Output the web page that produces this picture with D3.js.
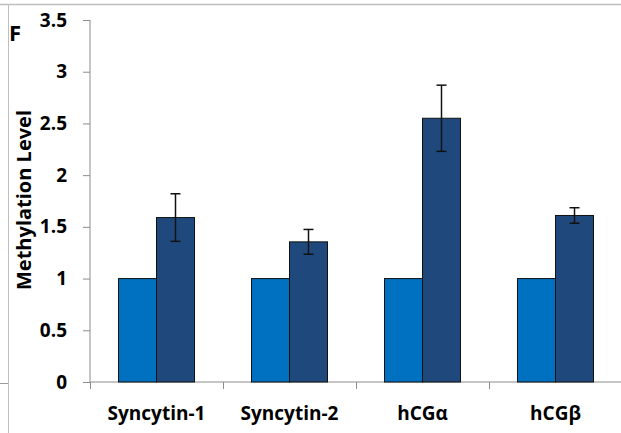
<!DOCTYPE html>
<html>
<head>
<meta charset="utf-8">
<script src="https://cdn.jsdelivr.net/npm/d3@7"></script>
<style>
  body { margin: 0; background: #fff; }
  svg { display: block; font-family: "Open Sans", Lato, sans-serif; }
</style>
</head>
<body>
<svg width="621" height="433"></svg>
<script>
// chart data
const genes = ["Syncytin-1", "Syncytin-2", "hCGα", "hCGβ"];
const groups = ["control", "treated"];
const controlValues = [1, 1, 1, 1];
const treatedValues = [1.59, 1.355, 2.55, 1.61];
const treatedErrors = [0.23, 0.12, 0.32, 0.075];
const yTicks = [0, 0.5, 1, 1.5, 2, 2.5, 3, 3.5];

const data = genes.map((g, i) => ({
  gene: g,
  bars: [
    { group: "control", value: controlValues[i], err: 0 },
    { group: "treated", value: treatedValues[i], err: treatedErrors[i] }
  ]
}));

const svg = d3.select("svg");
const margin = { top: 20, right: -1, bottom: 51, left: 90 };
const width = +svg.attr("width") - margin.left - margin.right;
const height = +svg.attr("height") - margin.top - margin.bottom;

const colorScale = d3.scaleOrdinal()
  .domain(groups)
  .range(["#0070c0", "#1f497d"]);

const xScale = d3.scaleBand()
  .domain(genes)
  .range([0, width])
  .paddingInner(0)
  .paddingOuter(0);

// Excel style: gap width 150% of a bar
const barW = xScale.bandwidth() / 3.5;
const xSub = d3.scaleBand()
  .domain(groups)
  .range([0, barW * 2]);

const yScale = d3.scaleLinear()
  .domain([0, 3.5])
  .range([height, 0]);

// page frame lines
svg.append("line").attr("x1", 0).attr("x2", 621).attr("y1", 4.5).attr("y2", 4.5)
  .attr("stroke", "#bfbfbf").attr("stroke-width", 1.5);
svg.append("line").attr("x1", 8.5).attr("x2", 8.5).attr("y1", 4).attr("y2", 433)
  .attr("stroke", "#bfbfbf").attr("stroke-width", 1);
svg.append("line").attr("x1", 0).attr("x2", 8).attr("y1", 383.5).attr("y2", 383.5)
  .attr("stroke", "#9a9a9a").attr("stroke-width", 1);

const g = svg.append("g").attr("transform", `translate(${margin.left},${margin.top})`);

// y axis
const yAxis = g.append("g")
  .call(d3.axisLeft(yScale).tickValues(yTicks).tickSize(7).tickPadding(16)
    .tickFormat(d => d));
yAxis.selectAll("line, path").attr("stroke", "#8c8c8c");
yAxis.select(".domain").attr("d", `M0,${height}V0`);
yAxis.selectAll("text").attr("fill", "#000").attr("font-size", 19).attr("font-weight", "bold")
  .attr("font-family", "'Open Sans', sans-serif");

// x axis with ticks between categories
const xAxis = g.append("g").attr("transform", `translate(0,${height})`);
xAxis.append("path").attr("d", `M0,0H${width}`).attr("stroke", "#8c8c8c");
xAxis.selectAll(".sep")
  .data(genes)
  .enter().append("line")
  .attr("class", "sep")
  .attr("x1", d => xScale(d) + 0.5).attr("x2", d => xScale(d) + 0.5)
  .attr("y1", 0).attr("y2", 7)
  .attr("stroke", "#8c8c8c");
xAxis.selectAll(".lbl")
  .data(genes)
  .enter().append("text")
  .attr("class", "lbl")
  .attr("x", d => xScale(d) + xScale.bandwidth() / 2)
  .attr("y", 38)
  .attr("text-anchor", "middle")
  .attr("font-size", 19)
  .attr("font-weight", "bold")
  .text(d => d);

// bars
const geneGroups = g.selectAll(".gene")
  .data(data)
  .enter().append("g")
  .attr("class", "gene")
  .attr("transform", d => `translate(${xScale(d.gene) + (xScale.bandwidth() - barW * 2) / 2},0)`);

geneGroups.selectAll(".bar")
  .data(d => d.bars)
  .enter().append("rect")
  .attr("class", "bar")
  .attr("x", d => xSub(d.group))
  .attr("y", d => yScale(d.value))
  .attr("width", xSub.bandwidth())
  .attr("height", d => height - yScale(d.value))
  .attr("fill", d => colorScale(d.group))
  .attr("stroke", "#111")
  .attr("stroke-width", 1);

// error bars
const errs = geneGroups.selectAll(".err")
  .data(d => d.bars.filter(b => b.err > 0))
  .enter().append("g")
  .attr("class", "err")
  .attr("stroke", "#111")
  .attr("stroke-width", 1.5);
errs.append("line")
  .attr("x1", d => xSub(d.group) + xSub.bandwidth() / 2)
  .attr("x2", d => xSub(d.group) + xSub.bandwidth() / 2)
  .attr("y1", d => yScale(d.value + d.err))
  .attr("y2", d => yScale(d.value - d.err));
[1, -1].forEach(s => {
  errs.append("line")
    .attr("x1", d => xSub(d.group) + xSub.bandwidth() / 2 - 5)
    .attr("x2", d => xSub(d.group) + xSub.bandwidth() / 2 + 5)
    .attr("y1", d => yScale(d.value + s * d.err))
    .attr("y2", d => yScale(d.value + s * d.err));
});

// axis title
svg.append("text")
  .attr("transform", "translate(31,200) rotate(-90)")
  .attr("text-anchor", "middle")
  .attr("font-size", 20)
  .attr("font-weight", "bold")
  .text("Methylation Level");

// panel letter
svg.append("text")
  .attr("x", 9).attr("y", 41)
  .attr("font-size", 22)
  .attr("font-weight", "bold")
  .text("F");
</script>
</body>
</html>
